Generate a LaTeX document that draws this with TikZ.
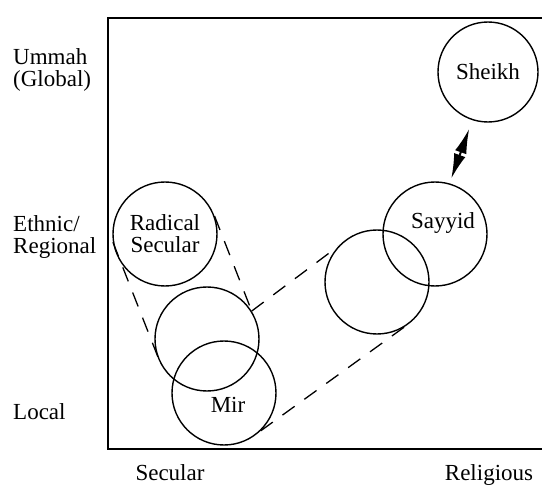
\documentclass[tikz,border=0pt]{standalone}
\usepackage{fontspec}
\setmainfont{Liberation Serif}
\usetikzlibrary{arrows.meta}
\tikzset{
	actor/.style={draw, circle, line width=1.4pt, inner sep=0pt, minimum size=104pt},
	axislabel/.style={font=\fontsize{23}{22}\selectfont, align=left, inner sep=0pt},
	% dashed connectors between circles
	trail/.style={line width=1.3pt, dash pattern=on 15pt off 12pt},
}
\begin{document}
\begin{tikzpicture}[x=1pt, y=-1pt, font=\fontsize{23}{22}\selectfont]
				\useasboundingbox (0,0) rectangle (542,487);
				\draw [line width=2pt] (108,18) rectangle (560,449);
				
				\node (ummah) [axislabel, anchor=west] at (13,70) {Ummah\\(Global)};
				\node (ethnic) [axislabel, anchor=west] at (13,237) {Ethnic/\\Regional};
				\node (local) [axislabel, anchor=base west] at (13,419) {Local};
				\node (secular) [axislabel, anchor=base] at (170,480) {Secular};
				\node (religious) [axislabel, anchor=base] at (489,480) {Religious};
				
				\node (rs) [actor, align=center] at (165,234) {Radical\\Secular};
				\node (ml) [actor] at (207,339) {};
				\node (mir) [actor, label={[xshift=4pt, yshift=-12pt]center:Mir}] at (224,393) {};
				\node (rc) [actor] at (377,282) {};
				\node (sy) [actor, label={[xshift=8pt, yshift=11pt]center:Sayyid}] at (435,234) {};
				\node (sh) [actor, minimum size=100pt] at (488,72) {Sheikh};
				
				\begin{scope}[trail]
					\draw (rs.189) -- (ml.209);
					\draw (rs.20) -- (ml.32);
					\draw (ml.32) -- (rc.137);
					\draw (mir.-46) -- (rc.-59);
				\end{scope}
				\draw [line width=2pt, {Latex[length=25pt, width=12pt]}-{Latex[length=25pt, width=12pt]}, shorten <=9pt, shorten >=5pt] (sh.252) -- (sy.74);
				
			\end{tikzpicture}
\end{document}
